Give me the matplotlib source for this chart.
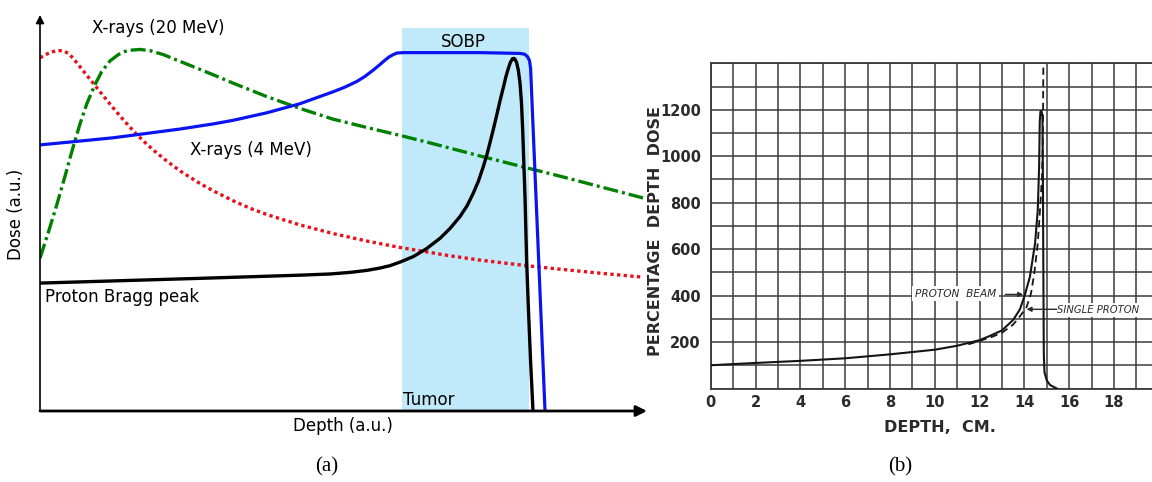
import matplotlib
matplotlib.use("Agg")
import matplotlib.pyplot as plt

W, H = 1152, 482

# ---- panel (a): schematic depth-dose curves, arbitrary units (0-100) ----
sobp_depth = [0, 5.49, 12.08, 17.58, 23.06, 28.55, 31.80, 37.35, 42.83, 48.27, 50.25, 52.17,
              53.54, 54.91, 56.01, 56.84, 57.50, 58.20, 58.81, 59.85, 72.49, 79.08, 79.82,
              80.31, 80.64, 80.82, 83.20]
sobp_dose = [67.2, 68.0, 69.0, 70.1, 71.2, 72.5, 73.4, 75.3, 77.6, 80.6, 81.8, 83.2,
             84.5, 86.1, 87.5, 88.6, 89.4, 90.0, 90.4, 90.5, 90.5, 90.3, 90.1,
             89.5, 88.5, 86.6, 0]

bragg_depth = [0, 26.36, 42.83, 47.78, 51.07, 53.82, 56.01, 57.66, 59.31, 61.50, 63.59, 65.90,
               67.55, 69.19, 70.35, 71.38, 72.24, 73.03, 73.64, 74.14, 74.71, 75.24, 75.78,
               76.33, 76.77, 77.15, 77.51, 77.87, 78.17, 78.50, 78.80, 79.08, 79.32, 79.52,
               79.90, 80.18, 80.44, 80.81, 81.22]
bragg_dose = [32.3, 33.5, 34.3, 34.6, 35.0, 35.5, 36.1, 36.7, 37.6, 39.0, 40.9, 43.6,
              46.1, 49.1, 51.8, 55.0, 58.1, 61.7, 64.8, 67.8, 71.3, 74.7, 78.3,
              81.7, 84.5, 86.5, 88.1, 89.0, 89.0, 88.1, 86.1, 82.8, 77.8, 71.0,
              54.1, 37.4, 26.8, 12.9, 0]

xray4_depth = [0, 1.6, 2.5, 3.3, 4.0, 4.7, 5.5, 6.6, 7.7, 8.8, 9.9, 11.0, 12.4, 13.7, 14.8,
               15.9, 17.3, 18.9, 20.9, 23.1, 26.4, 28.8, 31.8, 34.6, 37.4, 42.8, 48.3, 53.9,
               59.3, 67.5, 72.5, 80.7, 85.7, 92.3, 99.3]
xray4_dose = [89.2, 90.5, 90.9, 91.0, 90.8, 90.3, 89.0, 86.9, 84.8, 82.7, 80.6, 78.5, 75.9,
              73.6, 71.7, 69.9, 67.8, 65.6, 63.1, 60.6, 57.4, 55.4, 53.1, 51.2, 49.6, 47.0,
              44.8, 42.9, 41.3, 39.2, 38.1, 36.6, 35.8, 34.8, 33.8]

xray20_depth = [0, 1.37, 2.75, 4.12, 5.22, 6.59, 7.69, 9.06, 10.16, 11.53, 12.90, 14.00,
                14.83, 16.47, 18.12, 20.31, 23.06, 25.82, 28.55, 31.80, 37.35, 42.83,
                48.27, 53.82, 59.31, 64.25, 72.49, 80.72, 85.67, 99.34]
xray20_dose = [38.6, 45.1, 52.0, 59.3, 65.4, 72.5, 77.5, 82.4, 85.7, 88.4, 90.0, 90.8,
               91.1, 91.3, 91.0, 90.0, 88.3, 86.6, 84.9, 82.8, 79.4, 76.4,
               73.7, 71.6, 69.6, 67.7, 64.4, 61.2, 59.3, 53.8]

tumor_start, tumor_end, tumor_top = 59.6, 80.6, 96.7

# ---- panel (b): percentage depth dose vs depth (cm) ----
beam_depth = [0, 2, 4, 6, 8, 10, 11, 12, 12.5, 13, 13.5, 13.8, 14.0, 14.25, 14.48, 14.6,
              14.66, 14.69, 14.72, 14.77, 14.81, 14.83, 14.85, 14.87, 14.9, 15.0, 15.15, 15.45]
beam_dose = [100, 110, 119, 130, 147, 167, 184, 208, 228, 250, 295, 340, 395, 481, 625, 768,
             950, 1150, 1192, 1195, 1170, 900, 500, 150, 70, 35, 15, 0]

single_depth = [11.5, 12.0, 12.5, 13.0, 13.5, 13.8, 14.1, 14.3, 14.45, 14.6, 14.7, 14.79,
                14.83, 14.85]
single_dose = [190, 205, 220, 240, 275, 310, 350, 410, 500, 625, 768, 912, 1100, 1400]

xticks_b = list(range(0, 20))
xlabels_b = [str(v) if v % 2 == 0 else "" for v in xticks_b]
yticks_b = list(range(0, 1500, 100))
ylabels_b = [str(v) if (v % 200 == 0 and 0 < v <= 1200) else "" for v in yticks_b]

fig = plt.figure(figsize=(W / 100, H / 100), dpi=100)

def px(x, y):
    return x / W, 1 - y / H

# panel (a)
ax = fig.add_axes([40 / W, (H - 411) / H, 607 / W, 396 / H])
ax.set_xlim(0, 100)
ax.set_ylim(0, 100)
ax.axis("off")

ax.fill_between([tumor_start, tumor_end], 0, tumor_top, color="#c0e9f9", lw=0, zorder=1)
ax.plot(xray4_depth, xray4_dose, color="#e8101a", lw=2.4, ls=(0, (1, 1)), zorder=3)
ax.plot(xray20_depth, xray20_dose, color="#008000", lw=2.4, ls=(0, (4.5, 1.2, 0.9, 1.2)), zorder=3)
ax.plot(sobp_depth, sobp_dose, color="#0a14f0", lw=2.3, zorder=4, solid_joinstyle="round")
ax.plot(bragg_depth, bragg_dose, color="black", lw=2.4, zorder=5, solid_joinstyle="round")

ax.annotate("", xy=(1, 0), xytext=(0, 0), xycoords="axes fraction",
            arrowprops=dict(arrowstyle="-|>", lw=2.0, color="black", mutation_scale=16,
                            shrinkA=0, shrinkB=0), zorder=6)
ax.annotate("", xy=(0, 1), xytext=(0, 0), xycoords="axes fraction",
            arrowprops=dict(arrowstyle="-|>", lw=1.2, color="black", mutation_scale=12,
                            shrinkA=0, shrinkB=0), zorder=6)

fs = 12
ax.text(8.6, 96.7, "X-rays (20 MeV)", fontsize=fs, va="center", ha="left")
ax.text(24.7, 65.9, "X-rays (4 MeV)", fontsize=fs, va="center", ha="left")
ax.text(69.7, 93.2, "SOBP", fontsize=fs, va="center", ha="center")
ax.text(0.9, 28.8, "Proton Bragg peak", fontsize=fs, va="center", ha="left")
ax.text(59.8, 2.8, "Tumor", fontsize=fs, va="center", ha="left")
fig.text(*px(343, 426), "Depth (a.u.)", fontsize=fs, ha="center", va="center")
fig.text(*px(16, 214), "Dose (a.u.)", fontsize=fs, ha="center", va="center", rotation=90)
fig.text(*px(327, 467), "(a)", fontsize=15, family="Liberation Serif", ha="center", va="center")
fig.text(*px(900, 467), "(b)", fontsize=15, family="Liberation Serif", ha="center", va="center")

# panel (b)
bx = fig.add_axes([710.7 / W, (H - 388.5) / H, (W - 710.7) / W, 325.2 / H])
bx.set_xlim(0, 19.7)
bx.set_ylim(0, 1400)
gcol = "#3a3a3a"
tcol = "#2a2a2a"
bx.set_xticks(xticks_b)
bx.set_xticklabels(xlabels_b, fontweight="bold")
bx.set_yticks(yticks_b)
bx.set_yticklabels(ylabels_b, fontweight="bold")
bx.tick_params(length=0, labelsize=10.5, colors=tcol, pad=5)
bx.tick_params(axis="y", pad=7)
bx.grid(True, color=gcol, lw=1.1)
for s in ["left", "bottom", "top"]:
    bx.spines[s].set_color(gcol)
    bx.spines[s].set_linewidth(1.3)
bx.spines["right"].set_visible(False)

bx.plot(beam_depth, beam_dose, color="#151515", lw=1.5, zorder=4, solid_joinstyle="round")
bx.plot(single_depth, single_dose, color="#151515", lw=1.3, ls=(0, (4, 2.5)), zorder=4)

bx.text(10.92, 408, "PROTON  BEAM", fontsize=7.6, style="italic",
        ha="center", va="center", color=tcol,
        bbox=dict(facecolor="white", edgecolor="none", pad=2), zorder=5)
bx.annotate("", xy=(13.95, 405), xytext=(13.15, 405),
            arrowprops=dict(arrowstyle="-|>", lw=1.0, color=tcol, mutation_scale=7,
                            shrinkA=0, shrinkB=0), zorder=5)
bx.text(15.45, 339, "SINGLE PROTON", fontsize=7.2, style="italic",
        ha="left", va="center", color=tcol,
        bbox=dict(facecolor="white", edgecolor="none", pad=1.5), zorder=5)
bx.annotate("", xy=(14.1, 341), xytext=(15.45, 341),
            arrowprops=dict(arrowstyle="-|>", lw=1.0, color=tcol, mutation_scale=7,
                            shrinkA=0, shrinkB=0), zorder=5)

fig.text(*px(655, 231), "PERCENTAGE  DEPTH  DOSE", fontsize=11.5, fontweight="bold",
         rotation=90, ha="center", va="center", color=tcol)
fig.text(*px(940, 428), "DEPTH,  CM.", fontsize=11.5, fontweight="bold",
         ha="center", va="center", color=tcol)

fig.savefig("out.png", dpi=100)
